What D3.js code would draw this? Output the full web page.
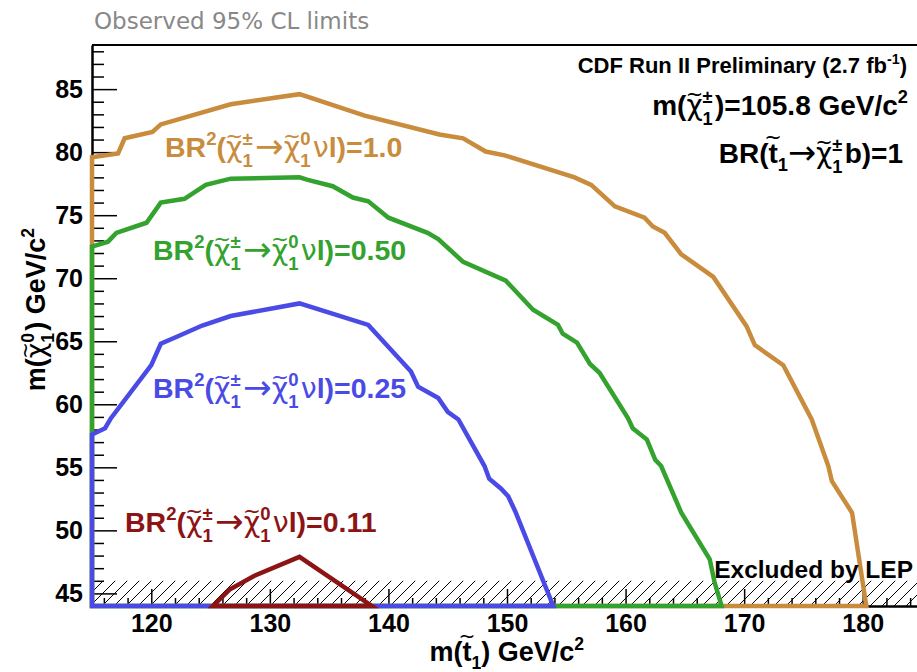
<!DOCTYPE html>
<html>
<head>
<meta charset="utf-8">
<script src="https://cdn.jsdelivr.net/npm/d3@7"></script>
<style>
  body { margin: 0; background: #fff; }
  svg { display: block; font-family: "Liberation Sans", Arial, Helvetica, sans-serif; }
</style>
</head>
<body>
<svg id="chart" width="917" height="672"></svg>
<script>
// exclusion contours, [m(stop), m(neutralino)] in GeV/c^2
const br100 = [[115,44],[115,79.6],[117.2,79.9],[117.75,81.1],[120.1,81.6],[120.8,82.2],[126.7,83.8],
  [132.5,84.6],[138.0,82.9],[144.3,81.4],[146.3,81.1],[148.2,80.05],[149.8,79.75],[155.7,78.0],
  [157.1,77.4],[159.1,75.7],[161.6,74.8],[162.3,74.1],[163.3,73.6],[164.7,71.9],[167.4,70.1],
  [170.2,66.2],[170.9,64.7],[173.3,63.1],[175.7,58.8],[177.1,55.1],[177.4,53.9],[179.1,51.4],[180.3,44]];
const br050 = [[115,44],[115,72.5],[116.35,72.9],[117.05,73.6],[119.6,74.4],[120.8,76.0],[122.8,76.3],
  [124.6,77.4],[126.7,77.9],[132.5,78.0],[133.2,77.8],[135.3,77.3],[137.0,76.4],[138.3,76.1],[140.0,74.8],
  [143.3,73.6],[144.2,73.1],[146.3,71.3],[149.9,69.8],[152.2,67.5],[154.3,66.3],[154.7,65.6],[155.9,64.9],
  [157.0,63.2],[157.8,62.5],[160.2,58.9],[160.6,58.1],[161.8,57.2],[162.5,55.6],[163.0,55.1],[164.7,51.4],
  [167.1,47.7],[167.5,45.9],[168.1,44]];
const br025 = [[115,44],[115,57.6],[116.1,58.1],[116.6,58.9],[120.0,63.1],[120.8,64.8],[122.25,65.4],
  [124.3,66.25],[126.7,67.0],[132.5,68.0],[138.3,66.3],[141.9,62.6],[142.5,61.4],[144.2,60.5],[145.0,59.4],
  [145.9,58.8],[148.1,55.1],[148.5,54.1],[149.5,53.3],[150.1,52.7],[150.7,51.5],[153.9,44]];
const br011 = [[125.2,44],[126.6,45.3],[128.7,46.4],[132.5,47.9],[138.6,44]];

const brValues = ["1.0", "0.50", "0.25", "0.11"];
const colors = ["#c88c3c", "#33a22e", "#4a4ae6", "#8c1414"];

const xTicks = [120, 130, 140, 150, 160, 170, 180];
const yTicks = [45, 50, 55, 60, 65, 70, 75, 80, 85];
const lepLimit = 46;

const svg = d3.select("#chart");

const x = d3.scaleLinear().domain([115, 185]).range([92, 922]);
const y = d3.scaleLinear().domain([44, 88.5]).range([606, 45]);

// rich text parts: n bold text, s symbol, a arrow, g symbol with tilde, t bold with tilde,
// ^ sup, _ sub, ^_ stacked sup/sub
function rich(sel, px, py, parts, size, color, anchor, rot) {
  const g = sel.append("g").attr("transform", `translate(${px},${py})` + (rot ? " rotate(-90)" : ""));
  const inner = g.append("g");
  let cx = 0;
  const add = (t, dx, dy, s, w, fam) => {
    const el = inner.append("text")
      .attr("x", dx).attr("y", dy).attr("font-size", s)
      .attr("font-weight", w || "bold").attr("fill", color).text(t);
    if (fam) el.attr("font-family", fam);
    return el.node().getComputedTextLength();
  };
  const tilde = (cxm, dy) => inner.append("text").attr("x", cxm).attr("y", dy)
    .attr("text-anchor", "middle").attr("font-family", "DejaVu Sans")
    .attr("font-size", 0.75 * size).attr("fill", color).text("~");
  parts.forEach(p => {
    if (p[0] === "n") cx += add(p[1], cx, 0, size);
    else if (p[0] === "s") cx += add(p[1], cx, 0, size, "normal", "DejaVu Sans");
    else if (p[0] === "a") cx += add("→", cx, 0.04 * size, 1.2 * size, "normal", "DejaVu Sans");
    else if (p[0] === "g") {
      const w = add(p[1], cx, 0, size, "normal", "DejaVu Sans");
      tilde(cx + w / 2, -0.5 * size);
      cx += w;
    } else if (p[0] === "t") {
      const w = add(p[1], cx, 0, size);
      tilde(cx + w / 2, -0.68 * size);
      cx += w;
    }
    else if (p[0] === "^") cx += add(p[1], cx, -0.42 * size, 0.65 * size);
    else if (p[0] === "_") cx += add(p[1], cx, 0.3 * size, 0.65 * size);
    else {
      const a = add(p[1], cx, -0.42 * size, 0.65 * size);
      const b = add(p[2], cx, 0.34 * size, 0.65 * size);
      cx += Math.max(a, b) + 0.08 * size;
    }
  });
  if (anchor === "end") inner.attr("transform", `translate(${-cx},0)`);
}

// title
svg.append("text").attr("x", 94).attr("y", 29)
  .attr("font-family", "DejaVu Sans").attr("font-size", 23).attr("fill", "#888")
  .text("Observed 95% CL limits");

// LEP hatch
const defs = svg.append("defs");
defs.append("pattern").attr("id", "hatch").attr("patternUnits", "userSpaceOnUse")
  .attr("width", 12).attr("height", 12)
  .append("path").attr("d", "M0,12 L12,0 M-3,3 L3,-3 M9,15 L15,9")
  .attr("stroke", "#000").attr("stroke-width", 1);
svg.append("rect")
  .attr("x", x(115)).attr("y", y(lepLimit))
  .attr("width", x(185) - x(115)).attr("height", y(44) - y(lepLimit))
  .attr("fill", "url(#hatch)");

// frame
svg.append("line").attr("x1", x(115)).attr("x2", x(185)).attr("y1", y(88.5)).attr("y2", y(88.5))
  .attr("stroke", "#000").attr("stroke-width", 2);

// axes, ticks inside
const fmt = d => d;
const gx = svg.append("g").attr("transform", `translate(0,${y(44)})`);
gx.call(d3.axisBottom(x).tickValues(d3.range(116, 185, 2).filter(v => v % 10)).tickSize(-8).tickSizeOuter(0).tickFormat(""));
gx.call(g => g.append("g").call(d3.axisBottom(x).tickValues(xTicks).tickSize(-17).tickSizeOuter(0).tickPadding(8).tickFormat(fmt)));
const gy = svg.append("g").attr("transform", `translate(${x(115)},0)`);
gy.call(d3.axisLeft(y).tickValues(d3.range(44, 89, 1).filter(v => v % 5)).tickSize(-12).tickSizeOuter(0).tickFormat(""));
gy.call(g => g.append("g").call(d3.axisLeft(y).tickValues(yTicks).tickSize(-25).tickSizeOuter(0).tickPadding(9).tickFormat(fmt)));
svg.selectAll(".domain").attr("stroke-width", 2);
svg.selectAll(".tick line").attr("stroke-width", 1.5);
svg.selectAll(".tick text").attr("font-size", 25).attr("font-weight", "bold")
  .attr("font-family", "Liberation Sans, Arial, sans-serif").attr("fill", "#000");

// contours
const line = d3.line().x(d => x(d[0])).y(d => y(d[1]));
[br100, br050, br025, br011].forEach((c, i) => {
  svg.append("path").attr("d", line(c) + "Z")
    .attr("fill", "none").attr("stroke", colors[i]).attr("stroke-width", 4.5);
});

// contour labels
const brParts = v => [["n", "BR"], ["^", "2"], ["n", "("], ["g", "χ"], ["^_", "±", "1"], ["a"],
  ["g", "χ"], ["^_", "0", "1"], ["s", "ν"], ["n", "l)=" + v]];
const labelPos = [[165, 157], [153, 260], [153, 398], [125, 532]];
brValues.forEach((v, i) => rich(svg, labelPos[i][0], labelPos[i][1], brParts(v), 28.5, colors[i], "start"));

// annotations
rich(svg, 907, 73, [["n", "CDF Run II Preliminary (2.7 fb"], ["^", "-1"], ["n", ")"]], 22, "#000", "end");
rich(svg, 908, 115, [["n", "m("], ["g", "χ"], ["^_", "±", "1"], ["n", ")=105.8 GeV/c"], ["^", "2"]], 28, "#000", "end");
rich(svg, 903, 163, [["n", "BR("], ["t", "t"], ["_", "1"], ["a"], ["g", "χ"], ["^_", "±", "1"], ["n", "b)=1"]], 28, "#000", "end");
svg.append("text").attr("x", 913).attr("y", 578).attr("text-anchor", "end")
  .attr("font-size", 24.5).attr("font-weight", "bold").text("Excluded by LEP");

// axis titles
rich(svg, 584, 661, [["n", "m("], ["t", "t"], ["_", "1"], ["n", ") GeV/c"], ["^", "2"]], 27, "#000", "end");
rich(svg, 45, 228, [["n", "m("], ["g", "χ"], ["^_", "0", "1"], ["n", ") GeV/c"], ["^", "2"]], 27, "#000", "end", true);
</script>
</body>
</html>
